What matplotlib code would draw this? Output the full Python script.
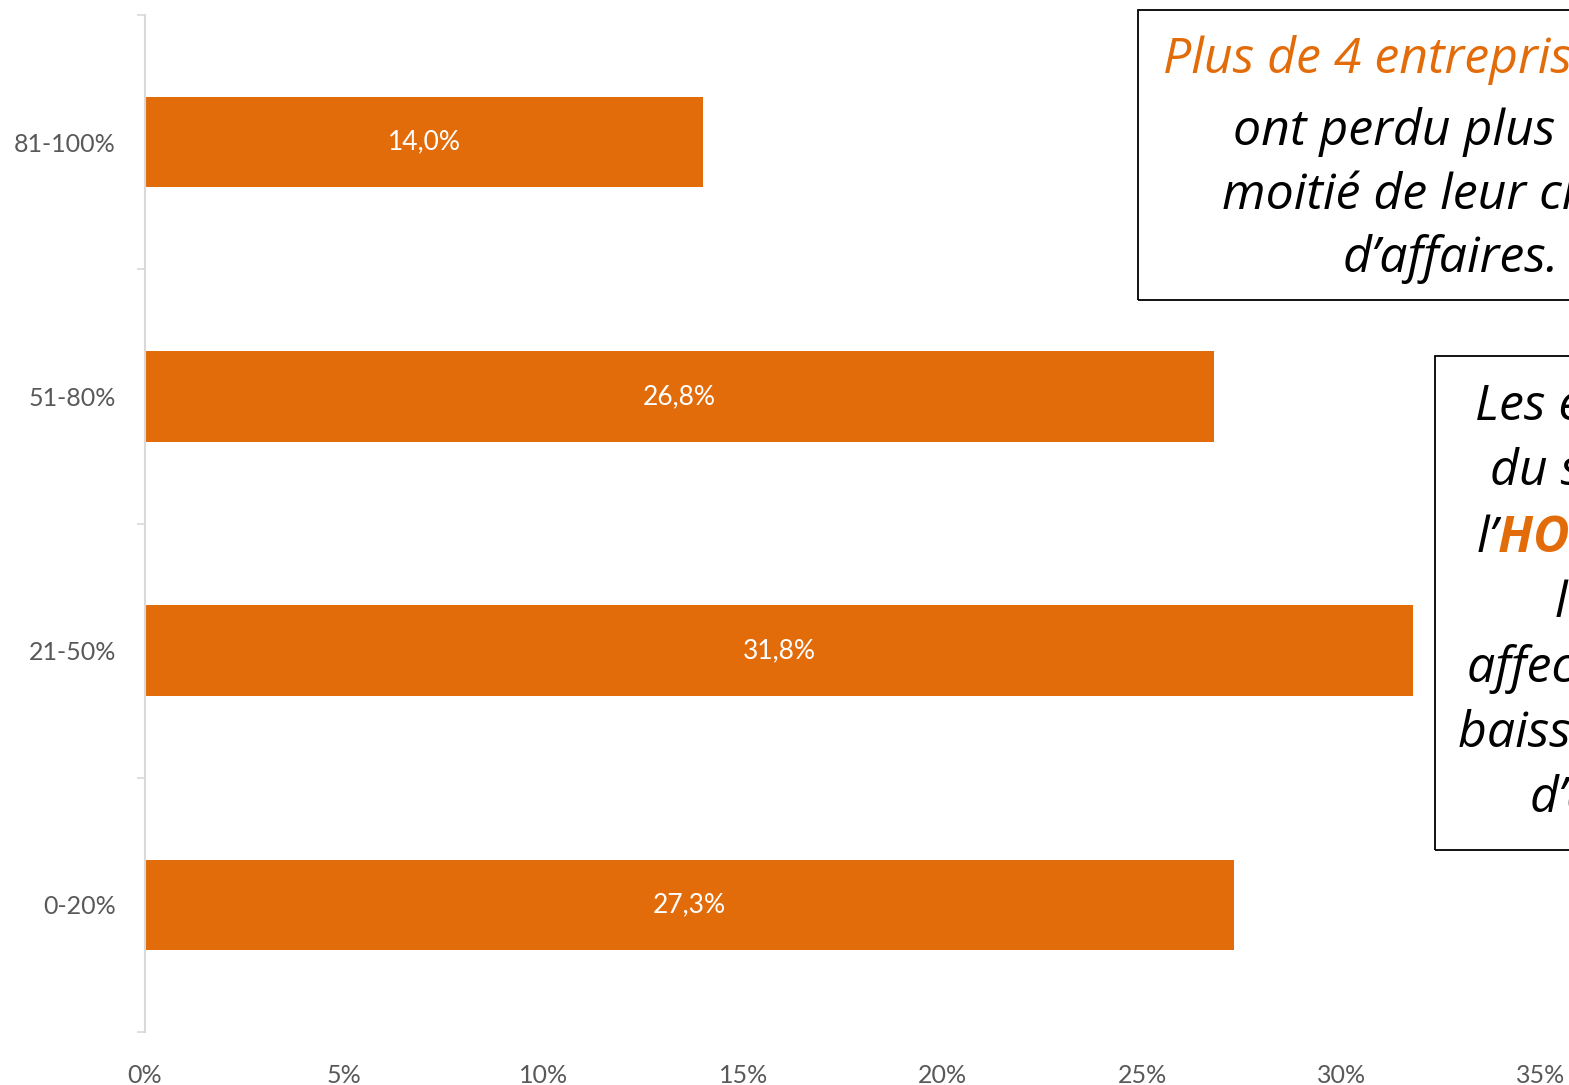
import matplotlib
matplotlib.use("Agg")
import matplotlib.pyplot as plt
from matplotlib.patches import Rectangle

# Data
categories = ["0-20%", "21-50%", "51-80%", "81-100%"]
values = [27.3, 31.8, 26.8, 14.0]
bar_labels = ["27,3%", "31,8%", "26,8%", "14,0%"]
xticks = [0, 5, 10, 15, 20, 25, 30, 35]
xtick_labels = ["0%", "5%", "10%", "15%", "20%", "25%", "30%", "35%"]

orange = "#E36C0A"
grey = "#595959"

plt.rcParams["font.family"] = ["Lato", "DejaVu Sans"]

W, H = 1569, 1085
fig = plt.figure(figsize=(W / 100, H / 100), dpi=100)
ax = fig.add_axes([145 / W, 1 - 1032 / H, (1541 - 145) / W, (1032 - 15) / H])

ypos = list(range(len(categories)))
bars = ax.barh(ypos, values, height=0.355, color=orange)
for b, lab in zip(bars, bar_labels):
    ax.text(b.get_width() / 2, b.get_y() + b.get_height() / 2, lab,
            ha="center", va="center", color="white", fontsize=19)

ax.set_xlim(0, 35)
ax.set_ylim(-0.5, len(categories) - 0.5)
ax.set_xticks(xticks)
ax.set_xticklabels(xtick_labels, fontsize=18, color=grey)
ax.set_yticks(ypos)
ax.set_yticklabels(categories, fontsize=18, color=grey)
ax.set_yticks([i - 0.5 for i in range(len(categories) + 1)], minor=True)
ax.tick_params(axis="x", length=0, pad=23)
ax.tick_params(axis="y", which="major", length=0, pad=21)
ax.tick_params(axis="y", which="minor", length=6, color="#D9D9D9", width=1.2)

for s in ["top", "right", "bottom"]:
    ax.spines[s].set_visible(False)
ax.spines["left"].set_color("#D9D9D9")
ax.spines["left"].set_linewidth(1.5)

# Text boxes (run past the right edge, cut off like the original)
def fx(px):
    return px / W

def fy(py):
    return 1 - py / H

fig.patches.append(Rectangle((fx(1138), fy(300)), 0.5, fy(10) - fy(300),
                             transform=fig.transFigure, fill=False,
                             edgecolor="black", linewidth=1.3))
fig.patches.append(Rectangle((fx(1435), fy(850)), 0.5, fy(356) - fy(850),
                             transform=fig.transFigure, fill=False,
                             edgecolor="black", linewidth=1.3))

box_font = ["Open Sans", "DejaVu Sans"]
box_fs = 36
box1_lines = [("Plus de 4 entreprises sur 10", 1163, 60, orange),
              ("ont perdu plus de la", 1233, 132, "black"),
              ("moitié de leur chiffre", 1222, 196, "black"),
              ("d’affaires.", 1343, 259, "black")]
for txt, x, y, c in box1_lines:
    fig.text(fx(x), fy(y), txt, ha="left", va="center", fontsize=box_fs,
             style="italic", color=c, family=box_font)

box2_lines = [("Les entreprises", 1475, 407),
              ("du secteur de", 1490, 472),
              (None, 1477, 539),
              ("les plus", 1555, 604),
              ("affectées par la", 1467, 669),
              ("baisse du chiffre", 1458, 734),
              ("d’affaires.", 1530, 799)]
for txt, x, y in box2_lines:
    if txt is None:
        # "l’" followed by the bold orange word
        t = fig.text(fx(x), fy(y), "l’", ha="left", va="center",
                     fontsize=box_fs, style="italic", color="black",
                     family=box_font)
        ax.annotate("HORECA sont", xy=(1, 0.5), xycoords=t, ha="left",
                    va="center", fontsize=box_fs, style="italic",
                    weight="bold", color=orange, annotation_clip=False,
                    family=box_font)
    else:
        fig.text(fx(x), fy(y), txt, ha="left", va="center", fontsize=box_fs,
                 style="italic", color="black", family=box_font)

fig.savefig("out.png", dpi=100)
